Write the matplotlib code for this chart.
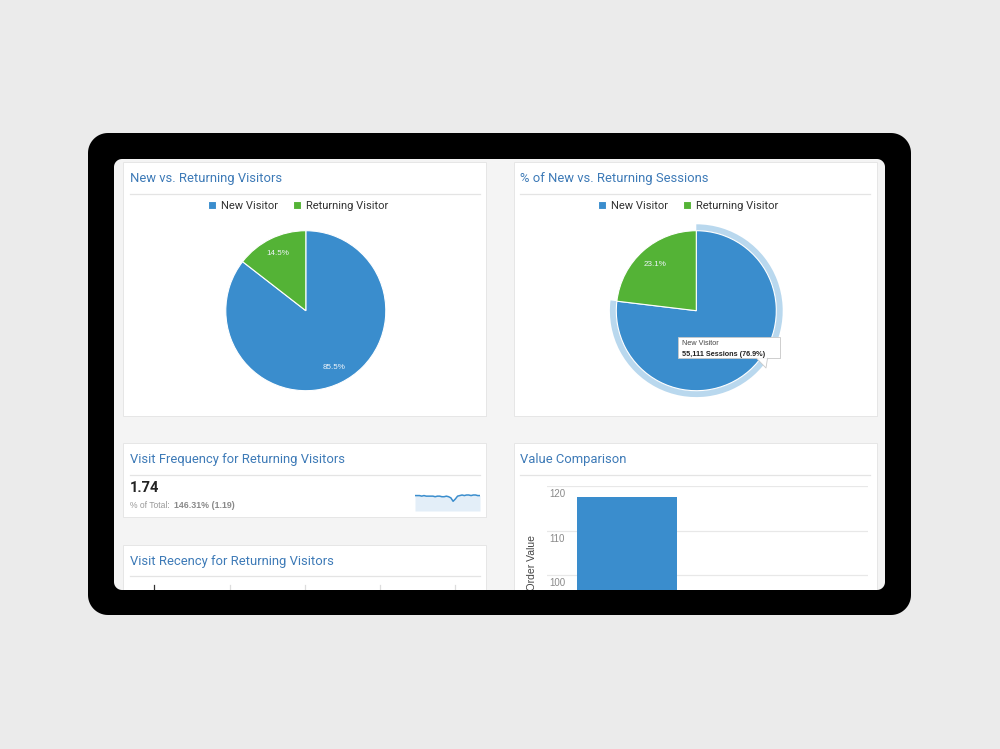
import numpy as np
import matplotlib
matplotlib.use("Agg")
import matplotlib.pyplot as plt
from matplotlib.patches import Rectangle, PathPatch, Polygon
from matplotlib.path import Path
import matplotlib.transforms as mtransforms

# ---------------- data ----------------
visitor_types = ["New Visitor", "Returning Visitor"]
visitors_pct = [85.5, 14.5]
sessions_pct = [76.9, 23.1]
tooltip_title = "New Visitor"
tooltip_value = "55,111 Sessions (76.9%)"

freq_value = "1.74"
freq_total_label = "% of Total: "
freq_total_value = "146.31% (1.19)"
spark_values = [1.72, 1.72, 1.72, 1.71, 1.72, 1.71, 1.71, 1.71, 1.71, 1.70,
                1.71, 1.71, 1.70, 1.70, 1.71, 1.70, 1.68, 1.62, 1.66, 1.71,
                1.72, 1.73, 1.72, 1.73, 1.73, 1.72, 1.73, 1.73, 1.72, 1.72]

bar_categories = ["New Visitor"]
bar_values = [117.6]
bar_ticks = [80, 90, 100, 110, 120]
bar_ylabel = "Avg. Order Value"

titles = {
    "pie1": "New vs. Returning Visitors",
    "pie2": "% of New vs. Returning Sessions",
    "freq": "Visit Frequency for Returning Visitors",
    "recency": "Visit Recency for Returning Visitors",
    "value": "Value Comparison",
}

# ---------------- style ----------------
BLUE = "#3a8dcd"
GREEN = "#54b336"
HALO = "#b9d8ee"
TITLE_C = "#3d7ab7"
PAGE = "#ebebeb"
SCREEN = "#f4f4f4"
W, H = 1000, 749

fig = plt.figure(figsize=(10, 7.49), dpi=100, facecolor=PAGE)


def fax(x0, y0, x1, y1, **kw):
    return fig.add_axes([x0 / W, 1 - y1 / H, (x1 - x0) / W, (y1 - y0) / H], **kw)


def rr(x0, y0, x1, y1, r, n=16):
    pts = []
    for (cx, cy, a0, a1) in [(x1 - r, y0 + r, -90, 0), (x1 - r, y1 - r, 0, 90),
                             (x0 + r, y1 - r, 90, 180), (x0 + r, y0 + r, 180, 270)]:
        t = np.radians(np.linspace(a0, a1, n))
        pts.extend(zip(cx + r * np.cos(t), cy + r * np.sin(t)))
    return np.array(pts)


def ring(outer, inner):
    verts = np.concatenate([outer, outer[:1], inner[::-1], inner[-1:]])
    codes = ([Path.MOVETO] + [Path.LINETO] * (len(outer) - 1) + [Path.CLOSEPOLY] +
             [Path.MOVETO] + [Path.LINETO] * (len(inner) - 1) + [Path.CLOSEPOLY])
    return Path(verts, codes)


# ---------------- background / screen ----------------
bg = fax(0, 0, W, H, zorder=0)
bg.set_xlim(0, W)
bg.set_ylim(H, 0)
bg.axis("off")

bg.add_patch(Polygon(rr(114, 159, 885, 590, 8), closed=True, facecolor=SCREEN, edgecolor="none"))


def panel(x0, y0, x1, y1):
    bg.add_patch(Rectangle((x0 + 0.5, y0 + 1), x1 - x0, y1 - y0, facecolor="#e3e3e3", edgecolor="none"))
    bg.add_patch(Rectangle((x0, y0), x1 - x0, y1 - y0, facecolor="white", edgecolor="#e6e6e6", lw=0.7))


panel(123, 162, 486, 416)
panel(514, 162, 877, 416)
panel(123, 443, 486, 517)
panel(123, 545, 486, 640)
panel(514, 443, 877, 640)

TF = dict(fontsize=9.4, color=TITLE_C, family="Roboto", va="center", ha="left")
bg.text(130, 178.5, titles["pie1"], **TF)
bg.text(520, 178.5, titles["pie2"], **TF)
bg.text(130, 460, titles["freq"], **TF)
bg.text(130, 561, titles["recency"], **TF)
bg.text(520, 460, titles["value"], **TF)

for (x0, x1, y) in [(130, 480, 193.7), (520, 870, 193.7), (130, 480, 475),
                    (130, 480, 576), (520, 870, 475)]:
    bg.plot([x0, x1], [y, y], color="#e4e4e4", lw=0.9)

# frequency numbers
bg.text(130, 488.5, freq_value, fontsize=10.5, fontweight="bold", color="#222222",
        family="Roboto", va="center", ha="left")
bg.text(130, 505.5, freq_total_label, fontsize=6.2, color="#9a9a9a",
        family="Liberation Sans", va="center", ha="left")
bg.text(174, 505.5, freq_total_value, fontsize=6.4, fontweight="bold", color="#8a8a8a",
        family="Liberation Sans", va="center", ha="left")

# recency chart grid stubs
for i, x in enumerate([154.3, 230, 305, 380, 455]):
    bg.plot([x, x], [585, 592], color="#333333" if i == 0 else "#dddddd", lw=0.9)

# ---------------- pie 1 ----------------
R = 80.0
c1 = (305.8, 310.7)
ax1 = fax(c1[0] - 1.1 * R, c1[1] - 1.1 * R, c1[0] + 1.1 * R, c1[1] + 1.1 * R, zorder=2)
w1, _, at1 = ax1.pie(visitors_pct, colors=[BLUE, GREEN], startangle=90, counterclock=False,
                     autopct="%.1f%%", pctdistance=0.79,
                     wedgeprops=dict(edgecolor="white", linewidth=0.8),
                     textprops=dict(color="#eef4fa", fontsize=5.8, family="Liberation Sans"))
ax1.set_xlim(-1.1, 1.1)
ax1.set_ylim(-1.1, 1.1)

# ---------------- pie 2 ----------------
c2 = (696.3, 310.7)
ax2 = fax(c2[0] - 1.1 * R, c2[1] - 1.1 * R, c2[0] + 1.1 * R, c2[1] + 1.1 * R, zorder=2)
ax2.pie(sessions_pct, colors=[HALO, "none"], radius=1.08, startangle=90, counterclock=False,
        wedgeprops=dict(linewidth=0))
w2, _, at2 = ax2.pie(sessions_pct, colors=[BLUE, GREEN], startangle=90, counterclock=False,
                     autopct="%.1f%%", pctdistance=0.77,
                     wedgeprops=dict(edgecolor="white", linewidth=0.8),
                     textprops=dict(color="#eef4fa", fontsize=5.8, family="Liberation Sans"))
at2[0].set_visible(False)  # covered by the hover tooltip in the reference
ax2.set_xlim(-1.1, 1.1)
ax2.set_ylim(-1.1, 1.1)

for ax, wedges, cx in [(ax1, w1, 298), (ax2, w2, 688)]:
    leg = ax.legend(wedges, visitor_types, loc="center", bbox_to_anchor=(cx / W, 1 - 206 / H),
                    bbox_transform=fig.transFigure, ncol=2, frameon=False,
                    handlelength=0.75, handleheight=0.75, handletextpad=0.45,
                    columnspacing=1.3, borderpad=0, prop={"family": "Roboto", "size": 8})
    for t in leg.get_texts():
        t.set_color("#333333")

# ---------------- sparkline ----------------
sp = fax(415, 491, 480, 511, zorder=2)
xs = np.arange(len(spark_values))
sp.fill_between(xs, spark_values, 1.45, color="#e3eef8", lw=0)
sp.plot(xs, spark_values, color=BLUE, lw=1.1)
sp.set_xlim(0, len(spark_values) - 1)
sp.set_ylim(1.45, 1.80)
sp.axis("off")

# ---------------- bar chart ----------------
bx = fax(546.7, 486, 868, 664, zorder=2)
bx.set_facecolor("white")
bx.bar(np.arange(len(bar_values)), bar_values, width=0.62, color=BLUE, zorder=2)
bx.set_xlim(-0.5, 1.5)
bx.set_ylim(min(bar_ticks), max(bar_ticks))
bx.set_yticks(bar_ticks)
bx.yaxis.grid(True, color="#e8e8e8", lw=0.9, zorder=0)
bx.tick_params(axis="both", length=0, labelleft=False, labelbottom=False)
bx.set_xticks([])
for s in bx.spines.values():
    s.set_visible(False)
lab_tr = mtransforms.offset_copy(bx.get_yaxis_transform(), fig=fig, x=0, y=-3, units="dots")
for v in bar_ticks:
    bx.text(0.007, v, f"{v}", transform=lab_tr, va="top", ha="left", fontsize=7,
            color="#8a8a8a", family="Liberation Sans", zorder=3)
bx.set_ylabel(bar_ylabel, fontsize=7.5, color="#444444", family="Liberation Sans")
bx.yaxis.set_label_coords(-0.031, (664 - 575) / 178)

# ---------------- overlay: bezel, tooltip ----------------
ov = fax(0, 0, W, H, zorder=20)
ov.set_xlim(0, W)
ov.set_ylim(H, 0)
ov.axis("off")

outer = rr(88, 133, 911, 615, 20)
inner = rr(114, 159, 885, 590, 8)
page = np.array([(-5, -5), (W + 5, -5), (W + 5, H + 5), (-5, H + 5)])
ov.add_patch(PathPatch(ring(page, outer), facecolor=PAGE, edgecolor="none"))
ov.add_patch(PathPatch(ring(outer, inner), facecolor="#000000", edgecolor="none"))

# tooltip
ov.add_patch(Rectangle((678.7, 337.7), 102.3, 21.6, facecolor="#00000018", edgecolor="none"))
ov.add_patch(Rectangle((677.7, 336.7), 102.3, 21.6, facecolor="white", edgecolor="#c9c9c9", lw=0.6))
ov.add_patch(Polygon([(756.5, 358.2), (767.5, 358.2), (766, 368)], closed=True,
                     facecolor="white", edgecolor="none"))
ov.plot([756.5, 766, 767.5], [358.3, 368, 358.3], color="#c9c9c9", lw=0.6)
ov.text(681.7, 343.5, tooltip_title, fontsize=5.2, color="#444444", family="Liberation Sans",
        va="center", ha="left")
ov.text(681.7, 354.3, tooltip_value, fontsize=5.2, fontweight="bold", color="#222222",
        family="Liberation Sans", va="center", ha="left")

fig.savefig("out.png", dpi=100, facecolor=PAGE)
